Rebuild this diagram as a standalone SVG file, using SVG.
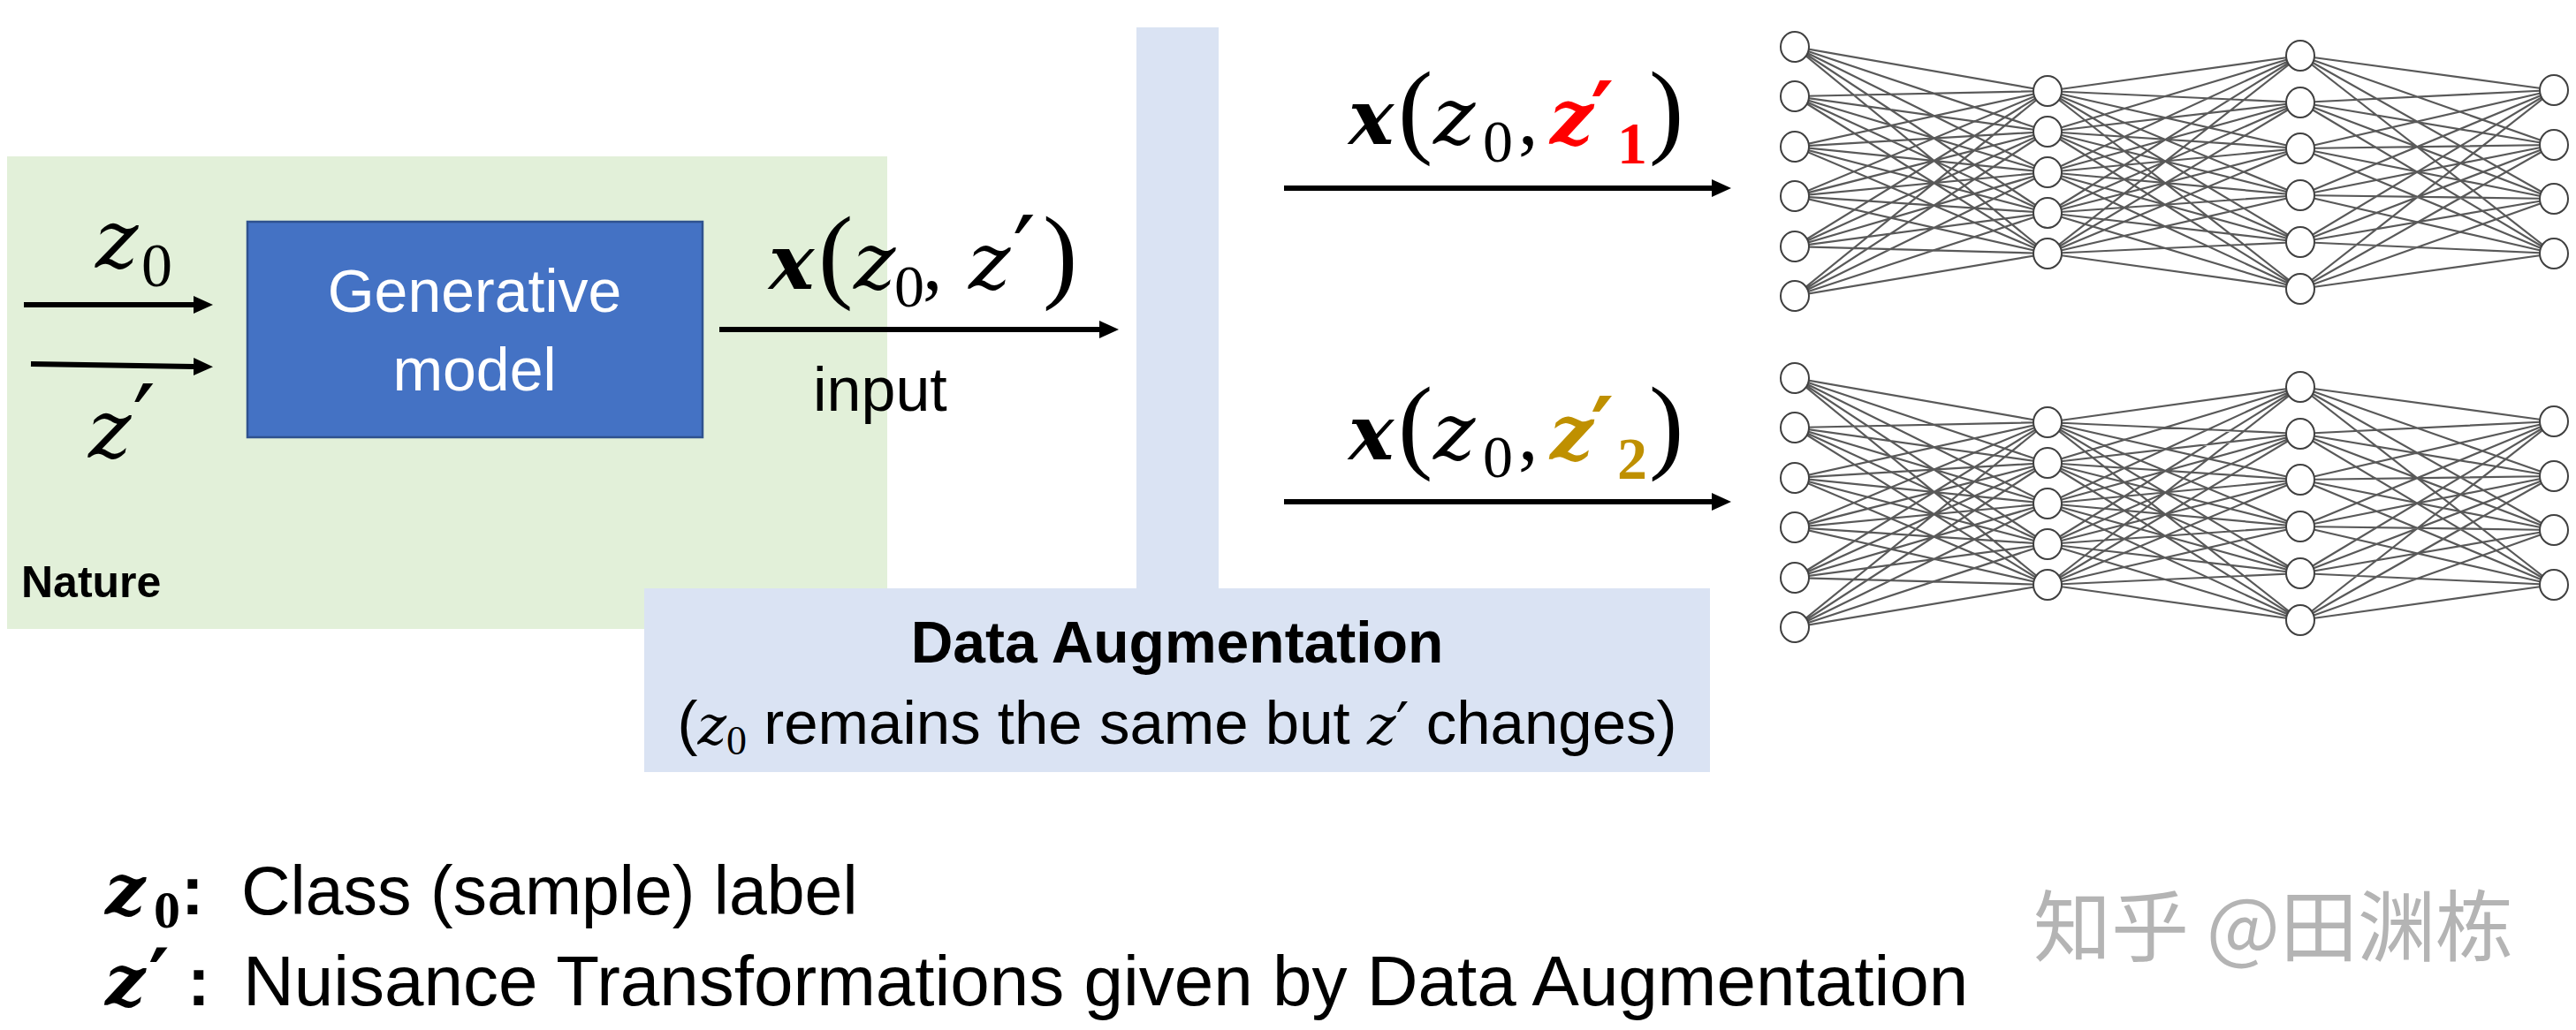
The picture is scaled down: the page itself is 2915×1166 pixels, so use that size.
<svg xmlns="http://www.w3.org/2000/svg" width="2915" height="1166" viewBox="0 0 2915 1166">
<style>
.sans{font-family:"Liberation Sans",Arial,sans-serif}
.mz{font-family:"DejaVu Serif",serif;font-style:italic}
.mzb{font-family:"DejaVu Serif",serif;font-style:italic;font-weight:bold}
.mn{font-family:"Liberation Serif",serif}
.pr{font-family:"DejaVu Serif",serif}
.arr{stroke:#000;stroke-width:6;fill:none;marker-end:url(#ah)}
.nl{stroke:#595959;stroke-width:2.2;fill:none}
.nd{fill:#fff;stroke:#404040;stroke-width:2}
</style>
<defs>
<marker id="ah" markerUnits="userSpaceOnUse" markerWidth="22" markerHeight="22" refX="0" refY="11" orient="auto" viewBox="0 0 22 22"><path d="M0,1 L22,11 L0,21 z" fill="#000"/></marker>
</defs>
<rect width="2915" height="1166" fill="#fff"/>

<g id="nature">
<rect x="8" y="177" width="996" height="535" fill="#E2F0D9"/>
<text class="sans" x="24" y="676" font-size="50" font-weight="bold">Nature</text>
</g>

<g id="data-augmentation">
<rect x="1286" y="31" width="93" height="640" fill="#DAE3F3"/>
<rect x="729" y="666" width="1206" height="208" fill="#DAE3F3"/>
<text class="sans" x="1332" y="750" font-size="66" font-weight="bold" text-anchor="middle">Data Augmentation</text>
<text class="sans" x="1332" y="842" font-size="69" text-anchor="middle">(<tspan class="mz" font-size="62">z</tspan><tspan class="mn" font-size="46" dy="12">0</tspan><tspan dy="-12"> remains the same but </tspan><tspan class="mz" font-size="62">z</tspan><tspan class="pr" font-size="66">′</tspan> changes)</text>
</g>

<g id="generative-model">
<rect x="280" y="251" width="515" height="244" fill="#4472C4" stroke="#2F528F" stroke-width="2.5"/>
<text class="sans" x="537" y="353" font-size="68" fill="#fff" text-anchor="middle">Generative</text>
<text class="sans" x="537" y="442" font-size="68" fill="#fff" text-anchor="middle">model</text>
</g>

<g id="connectors">
<line class="arr" x1="27" y1="345" x2="219" y2="345"/>
<line class="arr" x1="35" y1="412" x2="219" y2="415"/>
<line class="arr" x1="814" y1="373" x2="1244" y2="373"/>
<line class="arr" x1="1453" y1="213" x2="1937" y2="213"/>
<line class="arr" x1="1453" y1="568" x2="1937" y2="568"/>
</g>

<g id="labels">
<text x="108" y="303"><tspan class="mz" font-size="92">z</tspan><tspan class="mn" font-size="70" x="160" y="324">0</tspan></text>
<text x="100" y="518"><tspan class="mz" font-size="92">z</tspan><tspan class="pr" font-size="115" x="150">′</tspan></text>
<text class="sans" x="920" y="465" font-size="70">input</text>

<text y="327"><tspan class="mzb" font-size="86" x="870">x</tspan><tspan class="mn" font-size="118" x="926">(</tspan><tspan class="mz" font-size="90" x="966">z</tspan><tspan class="mn" font-size="68" x="1012" y="347">0</tspan><tspan class="mn" font-size="90" x="1044" y="327">,</tspan><tspan class="mz" font-size="90" x="1096">z</tspan><tspan class="pr" font-size="115" x="1146">′</tspan><tspan class="mn" font-size="118" x="1180">)</tspan></text>

<text y="163"><tspan class="mzb" font-size="86" x="1526">x</tspan><tspan class="mn" font-size="118" x="1582">(</tspan><tspan class="mz" font-size="90" x="1622">z</tspan><tspan class="mn" font-size="68" x="1678" y="183">0</tspan><tspan class="mn" font-size="90" x="1718" y="163">,</tspan><tspan class="mzb" font-size="86" x="1754" fill="#FF0000">z</tspan><tspan class="pr" font-size="100" x="1800" fill="#FF0000" font-weight="bold">′</tspan><tspan class="mn" font-size="68" x="1830" y="185" fill="#FF0000" font-weight="bold">1</tspan><tspan class="mn" font-size="118" x="1866" y="163">)</tspan></text>

<text y="520"><tspan class="mzb" font-size="86" x="1526">x</tspan><tspan class="mn" font-size="118" x="1582">(</tspan><tspan class="mz" font-size="90" x="1622">z</tspan><tspan class="mn" font-size="68" x="1678" y="540">0</tspan><tspan class="mn" font-size="90" x="1718" y="520">,</tspan><tspan class="mzb" font-size="86" x="1754" fill="#BF9000">z</tspan><tspan class="pr" font-size="100" x="1800" fill="#BF9000" font-weight="bold">′</tspan><tspan class="mn" font-size="68" x="1830" y="542" fill="#BF9000" font-weight="bold">2</tspan><tspan class="mn" font-size="118" x="1866" y="520">)</tspan></text>
</g>

<g id="nn-top">
<path class="nl" d="M2031 53L2317 103M2031 53L2317 149M2031 53L2317 195M2031 53L2317 241M2031 53L2317 287M2031 109L2317 103M2031 109L2317 149M2031 109L2317 195M2031 109L2317 241M2031 109L2317 287M2031 166L2317 103M2031 166L2317 149M2031 166L2317 195M2031 166L2317 241M2031 166L2317 287M2031 222L2317 103M2031 222L2317 149M2031 222L2317 195M2031 222L2317 241M2031 222L2317 287M2031 279L2317 103M2031 279L2317 149M2031 279L2317 195M2031 279L2317 241M2031 279L2317 287M2031 335L2317 103M2031 335L2317 149M2031 335L2317 195M2031 335L2317 241M2031 335L2317 287"/>
<path class="nl" d="M2317 103L2603 63M2317 103L2603 116M2317 103L2603 168M2317 103L2603 221M2317 103L2603 274M2317 103L2603 327M2317 149L2603 63M2317 149L2603 116M2317 149L2603 168M2317 149L2603 221M2317 149L2603 274M2317 149L2603 327M2317 195L2603 63M2317 195L2603 116M2317 195L2603 168M2317 195L2603 221M2317 195L2603 274M2317 195L2603 327M2317 241L2603 63M2317 241L2603 116M2317 241L2603 168M2317 241L2603 221M2317 241L2603 274M2317 241L2603 327M2317 287L2603 63M2317 287L2603 116M2317 287L2603 168M2317 287L2603 221M2317 287L2603 274M2317 287L2603 327"/>
<path class="nl" d="M2603 63L2890 102M2603 63L2890 164M2603 63L2890 225M2603 63L2890 287M2603 116L2890 102M2603 116L2890 164M2603 116L2890 225M2603 116L2890 287M2603 168L2890 102M2603 168L2890 164M2603 168L2890 225M2603 168L2890 287M2603 221L2890 102M2603 221L2890 164M2603 221L2890 225M2603 221L2890 287M2603 274L2890 102M2603 274L2890 164M2603 274L2890 225M2603 274L2890 287M2603 327L2890 102M2603 327L2890 164M2603 327L2890 225M2603 327L2890 287"/>
<ellipse class="nd" cx="2031" cy="53" rx="16" ry="17"/><ellipse class="nd" cx="2031" cy="109" rx="16" ry="17"/><ellipse class="nd" cx="2031" cy="166" rx="16" ry="17"/><ellipse class="nd" cx="2031" cy="222" rx="16" ry="17"/><ellipse class="nd" cx="2031" cy="279" rx="16" ry="17"/><ellipse class="nd" cx="2031" cy="335" rx="16" ry="17"/>
<ellipse class="nd" cx="2317" cy="103" rx="16" ry="17"/><ellipse class="nd" cx="2317" cy="149" rx="16" ry="17"/><ellipse class="nd" cx="2317" cy="195" rx="16" ry="17"/><ellipse class="nd" cx="2317" cy="241" rx="16" ry="17"/><ellipse class="nd" cx="2317" cy="287" rx="16" ry="17"/>
<ellipse class="nd" cx="2603" cy="63" rx="16" ry="17"/><ellipse class="nd" cx="2603" cy="116" rx="16" ry="17"/><ellipse class="nd" cx="2603" cy="168" rx="16" ry="17"/><ellipse class="nd" cx="2603" cy="221" rx="16" ry="17"/><ellipse class="nd" cx="2603" cy="274" rx="16" ry="17"/><ellipse class="nd" cx="2603" cy="327" rx="16" ry="17"/>
<ellipse class="nd" cx="2890" cy="102" rx="16" ry="17"/><ellipse class="nd" cx="2890" cy="164" rx="16" ry="17"/><ellipse class="nd" cx="2890" cy="225" rx="16" ry="17"/><ellipse class="nd" cx="2890" cy="287" rx="16" ry="17"/>
</g>

<g id="nn-bottom" transform="translate(0,375)">
<path class="nl" d="M2031 53L2317 103M2031 53L2317 149M2031 53L2317 195M2031 53L2317 241M2031 53L2317 287M2031 109L2317 103M2031 109L2317 149M2031 109L2317 195M2031 109L2317 241M2031 109L2317 287M2031 166L2317 103M2031 166L2317 149M2031 166L2317 195M2031 166L2317 241M2031 166L2317 287M2031 222L2317 103M2031 222L2317 149M2031 222L2317 195M2031 222L2317 241M2031 222L2317 287M2031 279L2317 103M2031 279L2317 149M2031 279L2317 195M2031 279L2317 241M2031 279L2317 287M2031 335L2317 103M2031 335L2317 149M2031 335L2317 195M2031 335L2317 241M2031 335L2317 287"/>
<path class="nl" d="M2317 103L2603 63M2317 103L2603 116M2317 103L2603 168M2317 103L2603 221M2317 103L2603 274M2317 103L2603 327M2317 149L2603 63M2317 149L2603 116M2317 149L2603 168M2317 149L2603 221M2317 149L2603 274M2317 149L2603 327M2317 195L2603 63M2317 195L2603 116M2317 195L2603 168M2317 195L2603 221M2317 195L2603 274M2317 195L2603 327M2317 241L2603 63M2317 241L2603 116M2317 241L2603 168M2317 241L2603 221M2317 241L2603 274M2317 241L2603 327M2317 287L2603 63M2317 287L2603 116M2317 287L2603 168M2317 287L2603 221M2317 287L2603 274M2317 287L2603 327"/>
<path class="nl" d="M2603 63L2890 102M2603 63L2890 164M2603 63L2890 225M2603 63L2890 287M2603 116L2890 102M2603 116L2890 164M2603 116L2890 225M2603 116L2890 287M2603 168L2890 102M2603 168L2890 164M2603 168L2890 225M2603 168L2890 287M2603 221L2890 102M2603 221L2890 164M2603 221L2890 225M2603 221L2890 287M2603 274L2890 102M2603 274L2890 164M2603 274L2890 225M2603 274L2890 287M2603 327L2890 102M2603 327L2890 164M2603 327L2890 225M2603 327L2890 287"/>
<ellipse class="nd" cx="2031" cy="53" rx="16" ry="17"/><ellipse class="nd" cx="2031" cy="109" rx="16" ry="17"/><ellipse class="nd" cx="2031" cy="166" rx="16" ry="17"/><ellipse class="nd" cx="2031" cy="222" rx="16" ry="17"/><ellipse class="nd" cx="2031" cy="279" rx="16" ry="17"/><ellipse class="nd" cx="2031" cy="335" rx="16" ry="17"/>
<ellipse class="nd" cx="2317" cy="103" rx="16" ry="17"/><ellipse class="nd" cx="2317" cy="149" rx="16" ry="17"/><ellipse class="nd" cx="2317" cy="195" rx="16" ry="17"/><ellipse class="nd" cx="2317" cy="241" rx="16" ry="17"/><ellipse class="nd" cx="2317" cy="287" rx="16" ry="17"/>
<ellipse class="nd" cx="2603" cy="63" rx="16" ry="17"/><ellipse class="nd" cx="2603" cy="116" rx="16" ry="17"/><ellipse class="nd" cx="2603" cy="168" rx="16" ry="17"/><ellipse class="nd" cx="2603" cy="221" rx="16" ry="17"/><ellipse class="nd" cx="2603" cy="274" rx="16" ry="17"/><ellipse class="nd" cx="2603" cy="327" rx="16" ry="17"/>
<ellipse class="nd" cx="2890" cy="102" rx="16" ry="17"/><ellipse class="nd" cx="2890" cy="164" rx="16" ry="17"/><ellipse class="nd" cx="2890" cy="225" rx="16" ry="17"/><ellipse class="nd" cx="2890" cy="287" rx="16" ry="17"/>
</g>

<g id="legend">
<text y="1035"><tspan class="mzb" font-size="80" x="119">z</tspan><tspan class="mn" font-size="60" font-weight="bold" x="174" y="1050">0</tspan><tspan class="sans" font-size="77" font-weight="bold" x="205" y="1035">:</tspan><tspan class="sans" font-size="77" x="273">Class (sample) label</tspan></text>
<text y="1138"><tspan class="mzb" font-size="80" x="119">z</tspan><tspan class="pr" font-size="90" font-weight="bold" x="168">′</tspan><tspan class="sans" font-size="77" font-weight="bold" x="212">:</tspan><tspan class="sans" font-size="80" x="275">Nuisance Transformations given by Data Augmentation</tspan></text>
</g>

<g id="watermark">
<text x="2301" y="1081" font-size="88" fill="#B4B4B4" font-family="'Noto Sans CJK SC',sans-serif">知乎 @田渊栋</text>
</g>
</svg>
